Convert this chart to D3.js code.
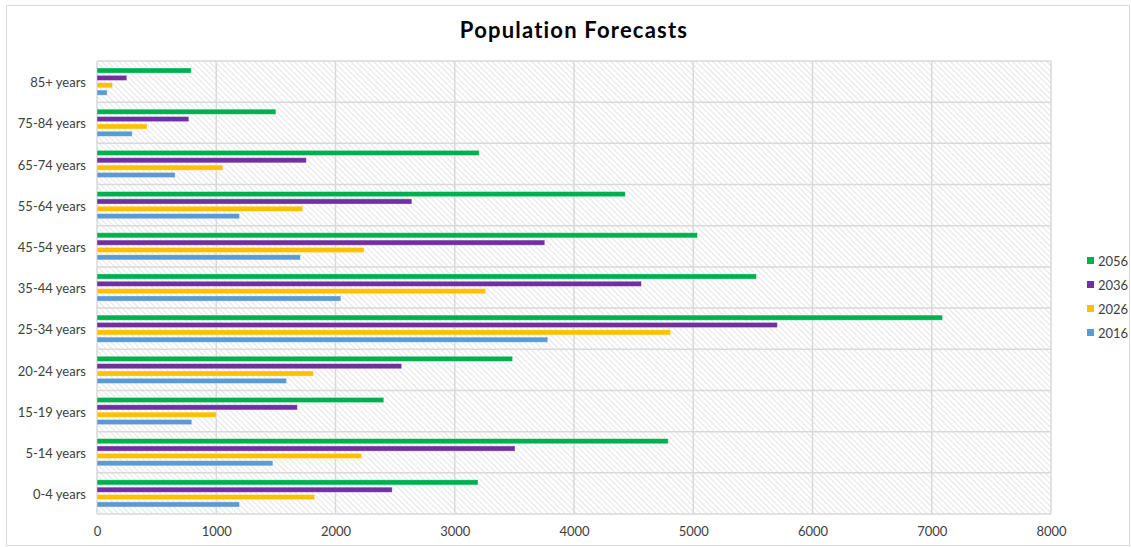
<!DOCTYPE html>
<html>
<head>
<meta charset="utf-8">
<script src="https://cdn.jsdelivr.net/npm/d3@7"></script>
<style>
  html, body { margin: 0; padding: 0; background: #fff; }
  svg { display: block; font-family: "Lato", "DejaVu Sans", sans-serif; }
</style>
</head>
<body>
<svg id="chart" width="1131" height="547"></svg>
<script>
// Age groups, top to bottom as listed on the axis
const categories = ["85+ years", "75-84 years", "65-74 years", "55-64 years", "45-54 years",
  "35-44 years", "25-34 years", "20-24 years", "15-19 years", "5-14 years", "0-4 years"];

// Series (legend order, top bar first within each group)
const seriesNames = ["2056", "2036", "2026", "2016"];
const seriesColors = ["#00B050", "#7030A0", "#FFC000", "#5B9BD5"];

// Projected population per age group, same order as categories
const values2056 = [790, 1500, 3205, 4430, 5035, 5530, 7090, 3485, 2405, 4790, 3195];
const values2036 = [250, 770, 1755, 2640, 3755, 4565, 5705, 2555, 1680, 3505, 2475];
const values2026 = [130, 420, 1055, 1725, 2240, 3260, 4810, 1815, 1000, 2220, 1825];
const values2016 = [85, 295, 655, 1195, 1705, 2045, 3780, 1590, 795, 1475, 1195];

const xTicks = [0, 1000, 2000, 3000, 4000, 5000, 6000, 7000, 8000];

const seriesValues = [values2056, values2036, values2026, values2016];

const svg = d3.select("#chart");
const W = 1131, H = 547;
const plot = { left: 97, right: 1051, top: 61, bottom: 514 };

// Chart frame
svg.append("rect")
  .attr("x", 6.5).attr("y", 5.5)
  .attr("width", W - 8).attr("height", H - 7)
  .attr("fill", "#fff").attr("stroke", "#d9d9d9").attr("stroke-width", 1);

// Diagonal hatch for the plot background
const defs = svg.append("defs");
const pat = defs.append("pattern")
  .attr("id", "hatch")
  .attr("patternUnits", "userSpaceOnUse")
  .attr("width", 4).attr("height", 4)
  .attr("patternTransform", "rotate(-45)");
pat.append("rect").attr("width", 4).attr("height", 4).attr("fill", "#fff");
pat.append("line")
  .attr("x1", 0).attr("y1", 0).attr("x2", 0).attr("y2", 4)
  .attr("stroke", "#d6d6d6").attr("stroke-width", 1.3);

svg.append("rect")
  .attr("x", plot.left).attr("y", plot.top)
  .attr("width", plot.right - plot.left).attr("height", plot.bottom - plot.top)
  .attr("fill", "url(#hatch)");

// Scales
const x = d3.scaleLinear().domain([0, 8000]).range([plot.left, plot.right]);
const y = d3.scaleBand().domain(categories).range([plot.top, plot.bottom]).padding(0);
const ySub = d3.scaleBand().domain(seriesNames).range([0, y.bandwidth()])
  .paddingInner(0.3).paddingOuter(0.95);

// Gridlines
const grid = svg.append("g").attr("stroke", "#d9d9d9").attr("stroke-width", 1.5);
grid.selectAll("line.v").data(xTicks).join("line")
  .attr("class", "v")
  .attr("x1", d => x(d)).attr("x2", d => x(d))
  .attr("y1", plot.top).attr("y2", plot.bottom);
const bandEdges = categories.map(c => y(c)).concat([plot.bottom]);
grid.selectAll("line.h").data(bandEdges).join("line")
  .attr("class", "h")
  .attr("x1", plot.left).attr("x2", plot.right)
  .attr("y1", d => d).attr("y2", d => d);

// Bars
const rows = [];
categories.forEach((c, i) => {
  seriesNames.forEach((s, j) => {
    rows.push({ cat: c, series: s, color: seriesColors[j], value: seriesValues[j][i] });
  });
});
svg.append("g").selectAll("rect").data(rows).join("rect")
  .attr("x", x(0))
  .attr("y", d => y(d.cat) + ySub(d.series))
  .attr("width", d => x(d.value) - x(0))
  .attr("height", ySub.bandwidth())
  .attr("fill", d => d.color)
  .attr("stroke", "rgba(255,255,255,0.45)")
  .attr("stroke-width", 0.8);

// Category axis
const yAxis = svg.append("g")
  .attr("transform", `translate(${plot.left - 11},1.5)`)
  .call(d3.axisLeft(y).tickSize(0).tickPadding(0));
yAxis.select(".domain").remove();
yAxis.selectAll("text")
  .attr("font-size", 13).attr("fill", "#404040")
  .attr("font-family", "Lato, 'DejaVu Sans', sans-serif");

// Value axis
const xAxis = svg.append("g")
  .attr("transform", `translate(0,${plot.bottom})`)
  .call(d3.axisBottom(x).tickValues(xTicks).tickFormat(d3.format("d")).tickSize(0).tickPadding(13));
xAxis.select(".domain").remove();
xAxis.selectAll("text")
  .attr("font-size", 13).attr("fill", "#404040")
  .attr("font-family", "Lato, 'DejaVu Sans', sans-serif");

// Title
svg.append("text")
  .attr("x", 574).attr("y", 38)
  .attr("text-anchor", "middle")
  .attr("font-size", 22).attr("font-weight", "bold").attr("fill", "#000")
  .attr("letter-spacing", 1.2)
  .text("Population Forecasts");

// Legend
const legend = svg.append("g");
const leg = legend.selectAll("g").data(seriesNames).join("g")
  .attr("transform", (d, i) => `translate(1087,${261 + i * 24})`);
leg.append("rect")
  .attr("x", 0).attr("y", -4).attr("width", 7).attr("height", 7)
  .attr("fill", (d, i) => seriesColors[i]);
leg.append("text")
  .attr("x", 11).attr("y", 0).attr("dy", "0.35em")
  .attr("font-size", 13).attr("fill", "#404040")
  .text(d => d);
</script>
</body>
</html>
